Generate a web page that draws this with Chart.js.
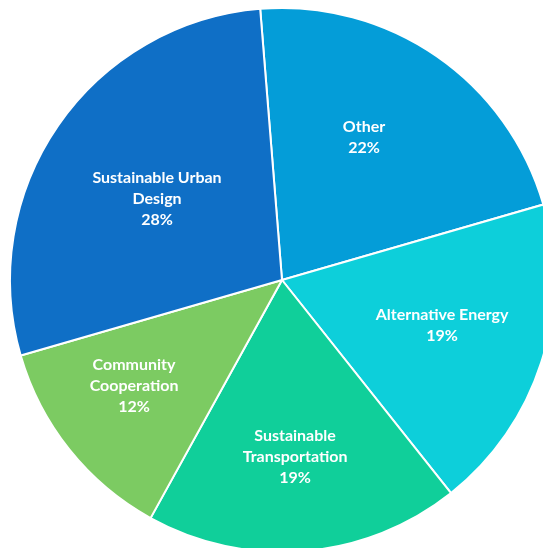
<!DOCTYPE html>
<html>
<head>
<meta charset="utf-8">
<script src="https://cdn.jsdelivr.net/npm/chart.js@4"></script>
<style>
html,body{margin:0;padding:0;background:#fff;}
#wrap{width:543px;height:548px;position:relative;}
</style>
</head>
<body>
<div id="wrap"><canvas id="c"></canvas></div>
<script>
const categories = ["Other", "Alternative Energy", "Sustainable Transportation", "Community Cooperation", "Sustainable Urban Design"];
const labelLines = [["Other"], ["Alternative Energy"], ["Sustainable", "Transportation"], ["Community", "Cooperation"], ["Sustainable Urban", "Design"]];
const values = [21.8, 18.8, 18.7, 12.49, 28.2];
const colors = ["#049DD8", "#0DCFDA", "#10CF9A", "#7CCB62", "#0F6FC6"];

// label placement styling (radial fraction and angular nudge, degrees)
const labelRadius = [0.61, 0.61, 0.645, 0.665, 0.55];
const labelNudge = [-5, -2.5, 0.5, 3.5, -1.3];

const labelPlugin = {
  id: 'sliceLabels',
  afterDatasetsDraw(chart) {
    const ctx = chart.ctx;
    const meta = chart.getDatasetMeta(0);
    const total = values.reduce((a, b) => a + b, 0);
    ctx.save();
    ctx.fillStyle = '#ffffff';
    ctx.font = 'bold 16px Lato, "Open Sans", sans-serif';
    ctx.textAlign = 'center';
    ctx.textBaseline = 'middle';
    meta.data.forEach((arc, i) => {
      const p = arc.getProps(['x', 'y', 'startAngle', 'endAngle', 'outerRadius'], true);
      const mid = (p.startAngle + p.endAngle) / 2 + labelNudge[i] * Math.PI / 180;
      const r = p.outerRadius * labelRadius[i];
      const cx = p.x + Math.cos(mid) * r;
      const cy = p.y + Math.sin(mid) * r + 1.5;
      const lines = labelLines[i].concat([Math.round(values[i] / total * 100) + '%']);
      const lh = 21;
      const y0 = cy - (lines.length - 1) * lh / 2;
      lines.forEach((t, k) => ctx.fillText(t, cx, y0 + k * lh));
    });
    ctx.restore();
  }
};

new Chart(document.getElementById('c'), {
  type: 'pie',
  data: {
    labels: categories,
    datasets: [{
      data: values,
      backgroundColor: colors,
      borderColor: '#ffffff',
      borderWidth: 2
    }]
  },
  options: {
    responsive: true,
    maintainAspectRatio: false,
    animation: false,
    rotation: -4.6,
    radius: 272,
    layout: { padding: { left: 21, top: 12, right: 0, bottom: 0 } },
    plugins: { legend: { display: false }, tooltip: { enabled: false } }
  },
  plugins: [labelPlugin]
});
</script>
</body>
</html>
